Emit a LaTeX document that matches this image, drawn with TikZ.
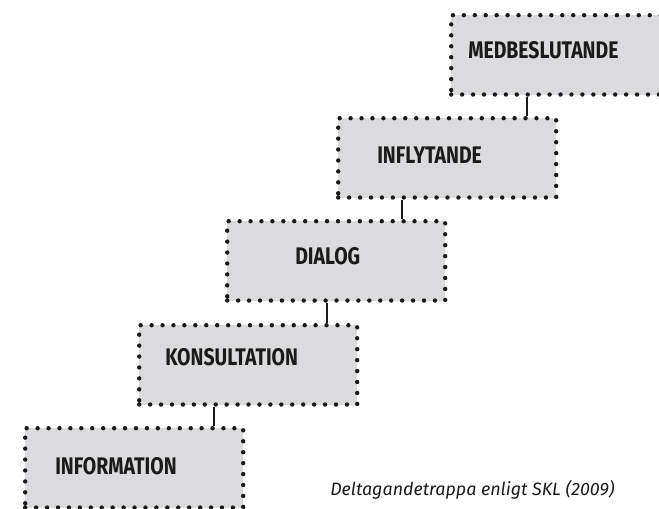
\documentclass[tikz,border=0pt]{standalone}
\usepackage{fontspec}
\setmainfont{Fira Sans}
\newfontfamily\boxfont[FakeStretch=0.81]{Fira Sans}
\newfontfamily\capfont{Fira Sans}
\definecolor{boxgray}{HTML}{DBDBDD}
\definecolor{ink}{HTML}{1A1A1A}
\begin{document}
\begin{tikzpicture}[x=0.75pt,y=-0.75pt,
  stepbox/.style={fill=boxgray, draw=ink, line width=3.3pt, line cap=round,
    dash pattern=on 0pt off 8.2pt, rectangle, inner sep=0pt, anchor=north west,
    minimum width=163.5pt, minimum height=59.5pt},
  steplabel/.style={anchor=west, inner sep=0pt, text=ink, font=\boxfont\bfseries\fontsize{18}{20}\selectfont},
  link/.style={draw=ink, line width=1.7pt}]
\useasboundingbox (0,0) rectangle (659,508);
\clip (0,0) rectangle (659,508);
\node[stepbox] (s5) at (23,426) {};
\node[stepbox] (s4) at (137,323) {};
\node[stepbox] (s3) at (225,219) {};
\node[stepbox] (s2) at (336,116) {};
\node[stepbox, minimum width=180pt] (s1) at (449,13) {};
\node[steplabel] (t1) at (468,50) {MEDBESLUTANDE};
\node[steplabel] (t2) at (377,155) {INFLYTANDE};
\node[steplabel] (t3) at (295,256) {DIALOG};
\node[steplabel] (t4) at (165,357) {KONSULTATION};
\node[steplabel] (t5) at (55,466) {INFORMATION};
\draw[link] ([xshift=78*0.75pt]s1.south west) -- ([xshift=78*0.75pt]s1.south west |- s2.north);
\draw[link] ([xshift=66*0.75pt]s2.south west) -- ([xshift=66*0.75pt]s2.south west |- s3.north);
\draw[link] ([xshift=102*0.75pt]s3.south west) -- ([xshift=102*0.75pt]s3.south west |- s4.north);
\draw[link] ([xshift=77*0.75pt]s4.south west) -- ([xshift=77*0.75pt]s4.south west |- s5.north);
\node[anchor=west, inner sep=0pt, text=ink, font=\capfont\itshape\fontsize{13.4}{15}\selectfont] (cap) at (330,490) {Deltagandetrappa enligt SKL (2009)};
\end{tikzpicture}
\end{document}
